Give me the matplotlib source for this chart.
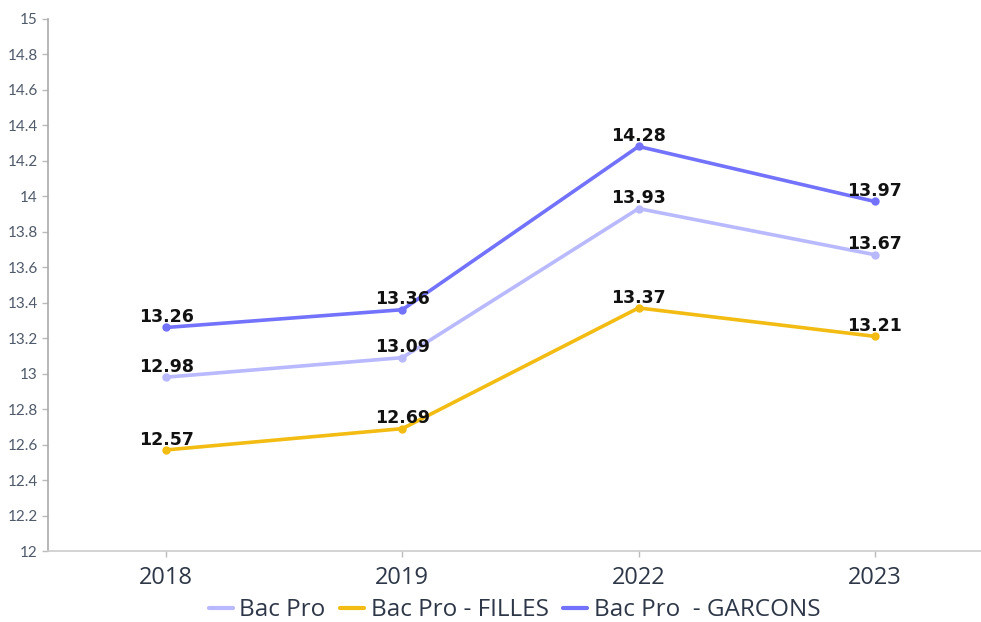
import matplotlib.pyplot as plt

years = ["2018", "2019", "2022", "2023"]
bac_pro = [12.98, 13.09, 13.93, 13.67]
filles = [12.57, 12.69, 13.37, 13.21]
garcons = [13.26, 13.36, 14.28, 13.97]

series = [
    ("Bac Pro", bac_pro, "#b9b9ff"),
    ("Bac Pro - FILLES", filles, "#f2bc12"),
    ("Bac Pro  - GARCONS", garcons, "#7272fc"),
]

plt.rcParams["font.family"] = ["Lato", "DejaVu Sans"]

fig = plt.figure(figsize=(9.81, 6.22), dpi=100)
ax = fig.add_axes([0.049, 0.114, 0.951, 0.856])

x = list(range(len(years)))
for name, vals, col in series:
    ax.plot(x, vals, color=col, lw=2.6, marker="o", ms=5, label=name,
            solid_capstyle="round")
    for xi, v in zip(x, vals):
        ax.annotate(f"{v:.2f}", (xi, v), xytext=(0, 1), textcoords="offset points",
                    ha="center", va="bottom", fontsize=12.5, fontweight="bold",
                    family=["DejaVu Sans"], color="#111111")

ax.set_xlim(-0.5, 3.45)
ax.set_ylim(12, 15)
ax.set_yticks([12 + 0.2 * i for i in range(16)])
ax.set_yticklabels([f"{12 + 0.2 * i:.1f}".rstrip("0").rstrip(".") for i in range(16)])
ax.set_xticks(x)
ax.set_xticklabels(years, family=["Open Sans", "DejaVu Sans"])

ax.tick_params(axis="y", labelsize=11, colors="#4f5a6b", length=4, width=1,
               color="#bbbbbb")
ax.tick_params(axis="x", labelsize=17, colors="#2d3748", length=4, width=1,
               color="#bbbbbb", pad=7)
for s in ["top", "right"]:
    ax.spines[s].set_visible(False)
ax.spines["left"].set_color("#aaaaaa")
ax.spines["bottom"].set_color("#cccccc")
ax.spines["left"].set_linewidth(1.2)
ax.spines["bottom"].set_linewidth(1.2)

leg = ax.legend(loc="center", bbox_to_anchor=(0.5, -0.111), ncol=3,
                frameon=False, handlelength=1.0, handletextpad=0.25,
                columnspacing=0.6, borderpad=0,
                prop={"family": ["Open Sans", "DejaVu Sans"], "size": 17.5})
for h in leg.get_lines():
    h.set_marker("")
    h.set_linewidth(3)
for t in leg.get_texts():
    t.set_color("#2d3748")

fig.savefig("out.png", dpi=100)
